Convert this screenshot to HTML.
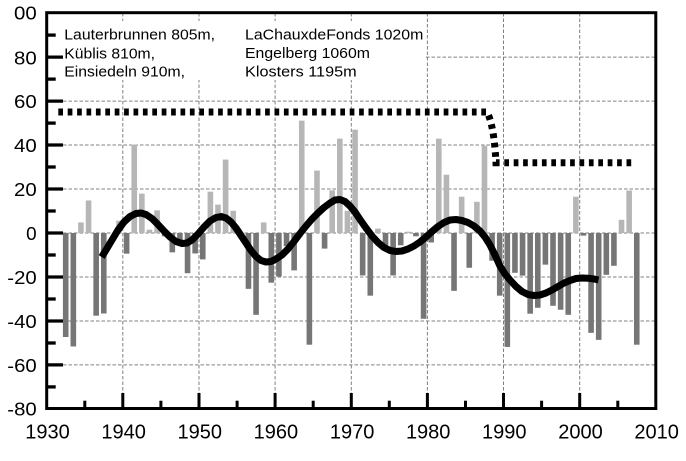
<!DOCTYPE html>
<html>
<head>
<meta charset="utf-8">
<style>
html,body{margin:0;padding:0;background:#fff;}
svg{display:block;}
text{font-family:"Liberation Sans",Arial,sans-serif;fill:#000;}
.d{fill:#767676;}
.l{fill:#b6b6b6;}
</style>
</head>
<body>
<svg width="686" height="461" viewBox="0 0 686 461" xmlns="http://www.w3.org/2000/svg">
<rect x="0" y="0" width="686" height="461" fill="#fff"/>

<!-- grid -->
<g stroke="#808080" stroke-width="1" stroke-dasharray="3.5 2" fill="none">
  <line x1="122.8" y1="13" x2="122.8" y2="408"/>
  <line x1="199.0" y1="13" x2="199.0" y2="408"/>
  <line x1="275.1" y1="13" x2="275.1" y2="408"/>
  <line x1="351.3" y1="13" x2="351.3" y2="408"/>
  <line x1="427.4" y1="13" x2="427.4" y2="408"/>
  <line x1="503.5" y1="13" x2="503.5" y2="408"/>
  <line x1="579.7" y1="13" x2="579.7" y2="408"/>
  <line x1="63" y1="57.1" x2="655" y2="57.1"/>
  <line x1="63" y1="101.1" x2="655" y2="101.1"/>
  <line x1="63" y1="145.0" x2="655" y2="145.0"/>
  <line x1="63" y1="189.0" x2="655" y2="189.0"/>
  <line x1="63" y1="233.0" x2="655" y2="233.0"/>
  <line x1="63" y1="277.0" x2="655" y2="277.0"/>
  <line x1="63" y1="321.0" x2="655" y2="321.0"/>
  <line x1="63" y1="364.9" x2="655" y2="364.9"/>
</g>

<!-- legend box -->
<rect x="55" y="21" width="371" height="59" fill="#fff"/>
<text x="64.3" y="39.3" font-size="14.5" textLength="150.7" lengthAdjust="spacingAndGlyphs">Lauterbrunnen 805m,</text>
<text x="64.3" y="58.3" font-size="14.5" textLength="90.7" lengthAdjust="spacingAndGlyphs">Küblis 810m,</text>
<text x="64.3" y="76.7" font-size="14.5" textLength="120.7" lengthAdjust="spacingAndGlyphs">Einsiedeln 910m,</text>
<text x="245" y="39.3" font-size="14.5" textLength="178.3" lengthAdjust="spacingAndGlyphs">LaChauxdeFonds 1020m</text>
<text x="245" y="58" font-size="14.5" textLength="125" lengthAdjust="spacingAndGlyphs">Engelberg 1060m</text>
<text x="245" y="76.5" font-size="14.5" textLength="111.7" lengthAdjust="spacingAndGlyphs">Klosters 1195m</text>

<!-- bars in data units -->
<g transform="translate(46.7,233) scale(7.614,-2.199)">
  <rect class="d" x="2.13" y="-47.3" width="0.735" height="47.3"/>
  <rect class="d" x="3.13" y="-51.6" width="0.735" height="51.6"/>
  <rect class="l" x="4.13" y="0" width="0.735" height="4.8"/>
  <rect class="l" x="5.13" y="0" width="0.735" height="14.8"/>
  <rect class="d" x="6.13" y="-37.6" width="0.735" height="37.6"/>
  <rect class="d" x="7.13" y="-36.6" width="0.735" height="36.6"/>
  <rect class="l" x="9.13" y="0" width="0.735" height="5.6"/>
  <rect class="d" x="10.13" y="-9.4" width="0.735" height="9.4"/>
  <rect class="l" x="11.13" y="0" width="0.735" height="40.2"/>
  <rect class="l" x="12.13" y="0" width="0.735" height="17.9"/>
  <rect class="l" x="13.13" y="0" width="0.735" height="1.5"/>
  <rect class="l" x="14.13" y="0" width="0.735" height="10.3"/>
  <rect class="d" x="15.13" y="-1.5" width="0.735" height="1.5"/>
  <rect class="d" x="16.13" y="-8.8" width="0.735" height="8.8"/>
  <rect class="d" x="17.13" y="-5.3" width="0.735" height="5.3"/>
  <rect class="d" x="18.13" y="-18.3" width="0.735" height="18.3"/>
  <rect class="d" x="19.13" y="-9.3" width="0.735" height="9.3"/>
  <rect class="d" x="20.13" y="-12" width="0.735" height="12"/>
  <rect class="l" x="21.13" y="0" width="0.735" height="18.8"/>
  <rect class="l" x="22.13" y="0" width="0.735" height="12.9"/>
  <rect class="l" x="23.13" y="0" width="0.735" height="33.4"/>
  <rect class="l" x="24.13" y="0" width="0.735" height="10.1"/>
  <rect class="d" x="25.13" y="-2" width="0.735" height="2"/>
  <rect class="d" x="26.13" y="-25.4" width="0.735" height="25.4"/>
  <rect class="d" x="27.13" y="-37.2" width="0.735" height="37.2"/>
  <rect class="l" x="28.13" y="0" width="0.735" height="4.8"/>
  <rect class="d" x="29.13" y="-22.6" width="0.735" height="22.6"/>
  <rect class="d" x="30.13" y="-19.8" width="0.735" height="19.8"/>
  <rect class="d" x="31.13" y="-6" width="0.735" height="6"/>
  <rect class="d" x="32.13" y="-17" width="0.735" height="17"/>
  <rect class="l" x="33.13" y="0" width="0.735" height="51.1"/>
  <rect class="d" x="34.13" y="-50.8" width="0.735" height="50.8"/>
  <rect class="l" x="35.13" y="0" width="0.735" height="28.4"/>
  <rect class="d" x="36.13" y="-7.1" width="0.735" height="7.1"/>
  <rect class="l" x="37.13" y="0" width="0.735" height="19.4"/>
  <rect class="l" x="38.13" y="0" width="0.735" height="42.9"/>
  <rect class="l" x="39.13" y="0" width="0.735" height="10.1"/>
  <rect class="l" x="40.13" y="0" width="0.735" height="47"/>
  <rect class="d" x="41.13" y="-19.3" width="0.735" height="19.3"/>
  <rect class="d" x="42.13" y="-28.5" width="0.735" height="28.5"/>
  <rect class="l" x="43.13" y="0" width="0.735" height="2"/>
  <rect class="d" x="44.13" y="-7" width="0.735" height="7"/>
  <rect class="d" x="45.13" y="-19.3" width="0.735" height="19.3"/>
  <rect class="d" x="46.13" y="-5.6" width="0.735" height="5.6"/>
  <rect class="l" x="47.13" y="0" width="0.735" height="0.6"/>
  <rect class="d" x="48.13" y="-1.5" width="0.735" height="1.5"/>
  <rect class="d" x="49.13" y="-39" width="0.735" height="39"/>
  <rect class="d" x="50.13" y="-4.3" width="0.735" height="4.3"/>
  <rect class="l" x="51.13" y="0" width="0.735" height="42.9"/>
  <rect class="l" x="52.13" y="0" width="0.735" height="26.5"/>
  <rect class="d" x="53.13" y="-26.3" width="0.735" height="26.3"/>
  <rect class="l" x="54.13" y="0" width="0.735" height="16.5"/>
  <rect class="d" x="55.13" y="-15.8" width="0.735" height="15.8"/>
  <rect class="l" x="56.13" y="0" width="0.735" height="14.2"/>
  <rect class="l" x="57.13" y="0" width="0.735" height="39.7"/>
  <rect class="d" x="58.13" y="-12.6" width="0.735" height="12.6"/>
  <rect class="d" x="59.13" y="-28.5" width="0.735" height="28.5"/>
  <rect class="d" x="60.13" y="-51.8" width="0.735" height="51.8"/>
  <rect class="d" x="61.13" y="-18.1" width="0.735" height="18.1"/>
  <rect class="d" x="62.13" y="-19.4" width="0.735" height="19.4"/>
  <rect class="d" x="63.13" y="-36.7" width="0.735" height="36.7"/>
  <rect class="d" x="64.13" y="-34" width="0.735" height="34"/>
  <rect class="d" x="65.13" y="-14.4" width="0.735" height="14.4"/>
  <rect class="d" x="66.13" y="-33.1" width="0.735" height="33.1"/>
  <rect class="d" x="67.13" y="-34.9" width="0.735" height="34.9"/>
  <rect class="d" x="68.13" y="-37.2" width="0.735" height="37.2"/>
  <rect class="l" x="69.13" y="0" width="0.735" height="16.5"/>
  <rect class="d" x="70.13" y="-1.2" width="0.735" height="1.2"/>
  <rect class="d" x="71.13" y="-45.4" width="0.735" height="45.4"/>
  <rect class="d" x="72.13" y="-48.6" width="0.735" height="48.6"/>
  <rect class="d" x="73.13" y="-19" width="0.735" height="19"/>
  <rect class="d" x="74.13" y="-14.9" width="0.735" height="14.9"/>
  <rect class="l" x="75.13" y="0" width="0.735" height="6"/>
  <rect class="l" x="76.13" y="0" width="0.735" height="19.3"/>
  <rect class="d" x="77.13" y="-50.8" width="0.735" height="50.8"/>
</g>

<!-- dotted step line -->
<path d="M58.3,112 H487 Q494,125 496,162.7 H634" fill="none" stroke="#000" stroke-width="7" stroke-dasharray="4.7 4.7"/>

<!-- smooth curve -->
<polyline fill="none" stroke="#000" stroke-width="7" stroke-linejoin="round" stroke-linecap="butt" points="
101.7,257 106,250 112,240 118,230 124,222 130,216.5 136,213.5 141,213 146,214.5 152,218.5 158,224.5 164,231 170,237 176,241.5 182,243.5 187,243 192,240 198,234 204,227 210,221 216,217.5 221,216.5 226,218 231,222 236,228 241,235.5 246,243 251,250.5 256,256.5 261,260.5 266,262 271,261.5 276,259 282,255 288,249 294,241.5 300,233.5 306,226 312,219 318,213 324,207.5 330,203 335,200 340,199.5 345,201.5 350,206 355,212 360,219.5 366,228 372,236 378,242.5 384,247.5 390,250.5 396,251.5 402,251 408,249 414,246 420,242 426,237 432,231.5 438,226.5 444,222.5 450,220 456,219.5 462,220.5 468,222.5 474,226 480,231 485,237 490,245 495,255 500,266 505,274 510,280 516,286.5 522,291.5 528,294.5 534,295.5 540,295 546,293 552,290 558,286.5 564,283 570,280.5 576,278.5 582,278 588,278.2 594,279 598.5,280"/>

<!-- y ticks -->
<g stroke="#000" stroke-width="3.3">
  <line x1="46.7" y1="57.1" x2="63" y2="57.1"/>
  <line x1="46.7" y1="101.1" x2="63" y2="101.1"/>
  <line x1="46.7" y1="145.0" x2="63" y2="145.0"/>
  <line x1="46.7" y1="189.0" x2="63" y2="189.0"/>
  <line x1="46.7" y1="233.0" x2="63" y2="233.0"/>
  <line x1="46.7" y1="277.0" x2="63" y2="277.0"/>
  <line x1="46.7" y1="321.0" x2="63" y2="321.0"/>
  <line x1="46.7" y1="364.9" x2="63" y2="364.9"/>
  <line x1="46.7" y1="35.1" x2="55.7" y2="35.1"/>
  <line x1="46.7" y1="79.1" x2="55.7" y2="79.1"/>
  <line x1="46.7" y1="123.1" x2="55.7" y2="123.1"/>
  <line x1="46.7" y1="167.0" x2="55.7" y2="167.0"/>
  <line x1="46.7" y1="211.0" x2="55.7" y2="211.0"/>
  <line x1="46.7" y1="255.0" x2="55.7" y2="255.0"/>
  <line x1="46.7" y1="299.0" x2="55.7" y2="299.0"/>
  <line x1="46.7" y1="343.0" x2="55.7" y2="343.0"/>
  <line x1="46.7" y1="386.9" x2="55.7" y2="386.9"/>
</g>
<!-- x ticks -->
<g stroke="#000" stroke-width="3">
  <line x1="122.8" y1="393" x2="122.8" y2="408.5"/>
  <line x1="199.0" y1="393" x2="199.0" y2="408.5"/>
  <line x1="275.1" y1="393" x2="275.1" y2="408.5"/>
  <line x1="351.3" y1="393" x2="351.3" y2="408.5"/>
  <line x1="427.4" y1="393" x2="427.4" y2="408.5"/>
  <line x1="503.5" y1="393" x2="503.5" y2="408.5"/>
  <line x1="579.7" y1="393" x2="579.7" y2="408.5"/>
  <line x1="84.8" y1="400.7" x2="84.8" y2="408.5"/>
  <line x1="160.9" y1="400.7" x2="160.9" y2="408.5"/>
  <line x1="237.1" y1="400.7" x2="237.1" y2="408.5"/>
  <line x1="313.2" y1="400.7" x2="313.2" y2="408.5"/>
  <line x1="389.3" y1="400.7" x2="389.3" y2="408.5"/>
  <line x1="465.5" y1="400.7" x2="465.5" y2="408.5"/>
  <line x1="541.6" y1="400.7" x2="541.6" y2="408.5"/>
  <line x1="617.8" y1="400.7" x2="617.8" y2="408.5"/>
</g>

<!-- frame -->
<rect x="46.7" y="12.7" width="609.1" height="395.8" fill="none" stroke="#000" stroke-width="3"/>

<!-- y labels -->
<g font-size="18" text-anchor="end">
  <text x="36.7" y="19.5" textLength="22.7" lengthAdjust="spacingAndGlyphs">00</text>
  <text x="36.7" y="64.3" textLength="22.7" lengthAdjust="spacingAndGlyphs">80</text>
  <text x="36.7" y="108.1" textLength="22.7" lengthAdjust="spacingAndGlyphs">60</text>
  <text x="36.7" y="152.0" textLength="22.7" lengthAdjust="spacingAndGlyphs">40</text>
  <text x="36.7" y="196.0" textLength="22.7" lengthAdjust="spacingAndGlyphs">20</text>
  <text x="36.7" y="240.0" textLength="10.5" lengthAdjust="spacingAndGlyphs">0</text>
  <text x="36.7" y="284.0" textLength="29.4" lengthAdjust="spacingAndGlyphs">-20</text>
  <text x="36.7" y="328.0" textLength="29.4" lengthAdjust="spacingAndGlyphs">-40</text>
  <text x="36.7" y="371.9" textLength="29.4" lengthAdjust="spacingAndGlyphs">-60</text>
  <text x="36.7" y="415.5" textLength="29.4" lengthAdjust="spacingAndGlyphs">-80</text>
</g>
<!-- x labels -->
<g font-size="20" text-anchor="middle">
  <text x="47.5" y="438.3">1930</text>
  <text x="123.6" y="438.3">1940</text>
  <text x="199.8" y="438.3">1950</text>
  <text x="275.9" y="438.3">1960</text>
  <text x="352.1" y="438.3">1970</text>
  <text x="428.2" y="438.3">1980</text>
  <text x="504.3" y="438.3">1990</text>
  <text x="580.5" y="438.3">2000</text>
  <text x="656.6" y="438.3">2010</text>
</g>
</svg>
</body>
</html>
